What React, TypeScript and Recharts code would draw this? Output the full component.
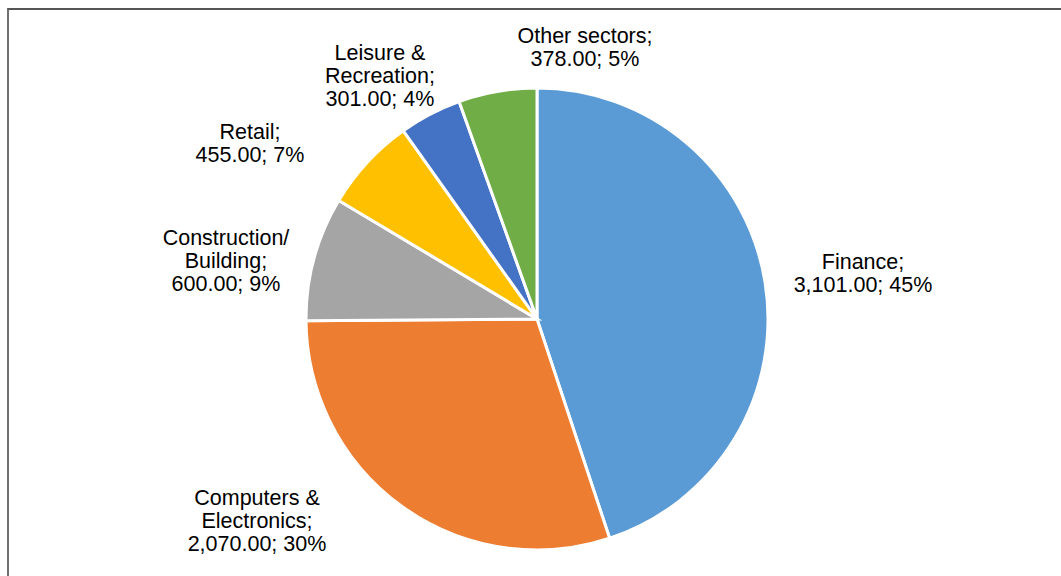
import React from 'react';
import { Cell, Pie, PieChart } from 'recharts';

const categories = [
  'Finance',
  'Computers &\nElectronics',
  'Construction/\nBuilding',
  'Retail',
  'Leisure &\nRecreation',
  'Other sectors',
];
const values = [3101, 2070, 600, 455, 301, 378];
const colors = ['#5B9BD5', '#ED7D31', '#A5A5A5', '#FFC000', '#4472C4', '#70AD47'];

// where Excel put each data label (block centre, relative to pie centre)
const labelOffsets: [number, number][] = [
  [326, -46],
  [-280, 201],
  [-311, -59],
  [-287, -176],
  [-157, -244],
  [48, -272],
];

const W = 1061;
const H = 576;
const CX = 537;
const CY = 319;
const R = 231;
const FONT = 21.5;
const LINE = 23;

const data = categories.map((name, i) => ({ name, value: values[i] }));

function renderLabel(props: any) {
  const { index, value, percent } = props;
  const nameLines = categories[index].split('\n');
  nameLines[nameLines.length - 1] += ';';
  const valueText =
    value.toLocaleString('en-US', { minimumFractionDigits: 2, maximumFractionDigits: 2 }) +
    '; ' +
    Math.round(percent * 100) +
    '%';
  const lines = [...nameLines, valueText];
  const [dx, dy] = labelOffsets[index];
  const x = CX + dx;
  const y0 = CY + dy - ((lines.length - 1) * LINE) / 2 + FONT * 0.36;
  return (
    <text
      key={`lbl-${index}`}
      x={x}
      y={y0}
      textAnchor="middle"
      fill="#000"
      fontSize={FONT}
      fontFamily="'Liberation Sans', Arial, Helvetica, sans-serif"
    >
      {lines.map((t, i) => (
        <tspan key={i} x={x} y={y0 + i * LINE}>
          {t}
        </tspan>
      ))}
    </text>
  );
}

export default function App() {
  return (
    <div style={{ position: 'absolute', left: 0, top: 0, width: W, height: H, background: '#fff', overflow: 'hidden' }}>
      <div
        style={{
          position: 'absolute',
          left: 7,
          top: 8,
          width: W,
          height: H,
          borderTop: '2px solid #555',
          borderLeft: '2px solid #707070',
          boxSizing: 'border-box',
        }}
      />
      <div style={{ position: 'absolute', left: 0, top: 0 }}>
        <PieChart width={W} height={H} margin={{ top: 0, right: 0, bottom: 0, left: 0 }}>
          <Pie
            data={data}
            dataKey="value"
            nameKey="name"
            cx={CX}
            cy={CY}
            outerRadius={R}
            startAngle={90}
            endAngle={-270}
            stroke="#fff"
            strokeWidth={3}
            label={renderLabel}
            labelLine={false}
            isAnimationActive={false}
          >
            {data.map((d, i) => (
              <Cell key={d.name} fill={colors[i]} />
            ))}
          </Pie>
        </PieChart>
      </div>
    </div>
  );
}
